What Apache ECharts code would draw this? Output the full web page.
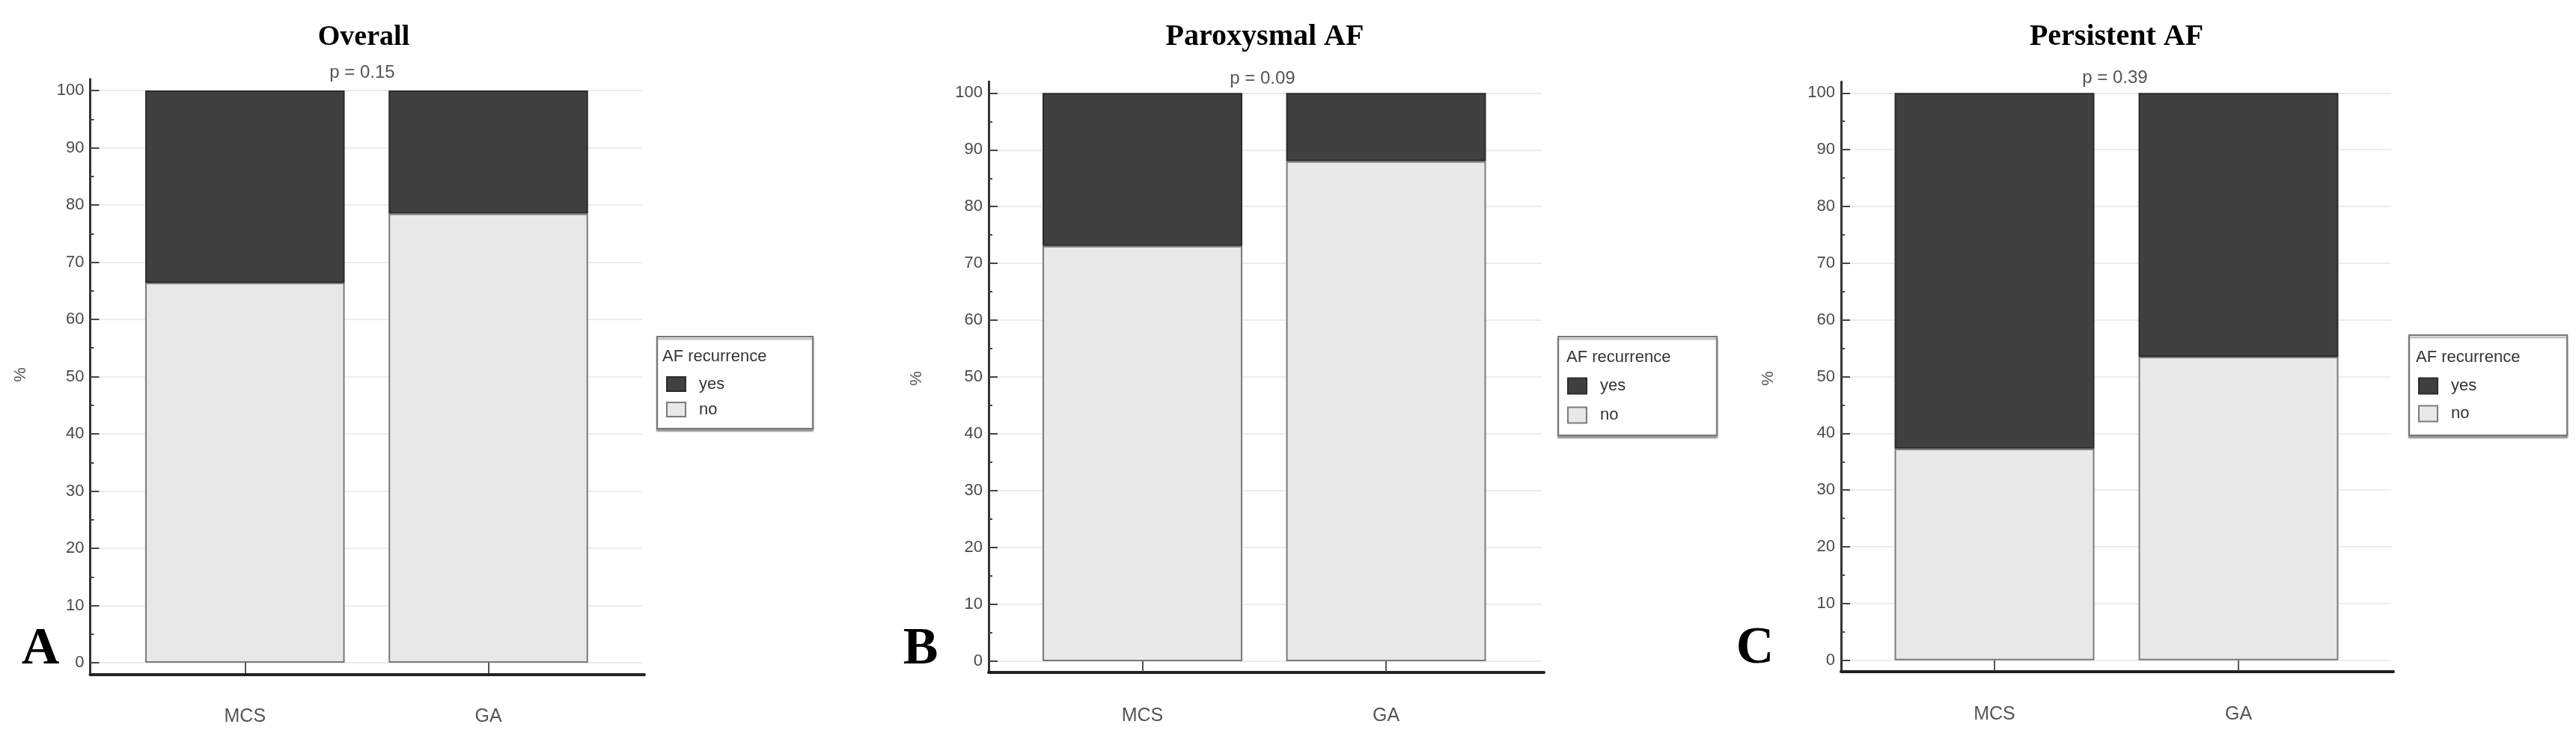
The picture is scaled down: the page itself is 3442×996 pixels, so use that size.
<!DOCTYPE html>
<html><head><meta charset="utf-8">
<script src="https://cdn.jsdelivr.net/npm/echarts@6/dist/echarts.min.js"></script>
<style>html,body{margin:0;padding:0;background:#fff}#c{width:3442px;height:996px}</style>
</head><body><div id="c"></div>
<script>
// ---------------- data ----------------
const categories = ['MCS', 'GA'];
const panelTitles = ['Overall', 'Paroxysmal AF', 'Persistent AF'];
const panelLetters = ['A', 'B', 'C'];
const pLabels = ['p = 0.15', 'p = 0.09', 'p = 0.39'];
const legendTitle = 'AF recurrence';
const legendItems = ['yes', 'no'];
const yAxisName = '%';
const overallNo = [66.4, 78.5];
const overallYes = [33.6, 21.5];
const paroxysmalNo = [73.1, 88.0];
const paroxysmalYes = [26.9, 12.0];
const persistentNo = [37.3, 53.5];
const persistentYes = [62.7, 46.5];
const yMin = 0, yMax = 100, yStep = 10;

const panelNo = [overallNo, paroxysmalNo, persistentNo];
const panelYes = [overallYes, paroxysmalYes, persistentYes];

// ---------------- layout ----------------
const SANS = '"Liberation Sans", Arial, sans-serif';
const SERIF = '"Liberation Serif", "Times New Roman", serif';
const L = [
  {axisX:120.5, gridEnd:858, c1:327.3, c2:652.5, barW:266.5, y0:886, y100:121, titleX:486, titleY:50.5, titleFs:38,
   pX:484, pY:97, letterX:54, letterY:868.5, pctX:27.5, pctY:501, catM:59.5,
   lg:{x:878, y:450, w:205, top:52.5, gap:12, bottom:14.5, ih:19, tx:885, ty:477}},
  {axisX:1321, gridEnd:2060, c1:1526.5, c2:1852, barW:267, y0:884, y100:124.3, titleX:1690, titleY:50, titleFs:40,
   pX:1687, pY:105, letterX:1230, letterY:869, pctX:1225, pctY:506, catM:60.5,
   lg:{x:2082, y:450, w:209, top:54.5, gap:16, bottom:15.5, ih:21, tx:2093, ty:478}},
  {axisX:2460, gridEnd:3195, c1:2665, c2:2991, barW:267, y0:882.7, y100:124.3, titleX:2828, titleY:50, titleFs:40,
   pX:2826, pY:104, letterX:2345, letterY:868, pctX:2363, pctY:506, catM:60,
   lg:{x:3219, y:448, w:208, top:56.5, gap:14, bottom:17.5, ih:21, tx:3228, ty:478}}
];

const grid = [], xAxis = [], yAxis = [], series = [], legend = [], graphic = [];

L.forEach((p, i) => {
  const ppu = (p.y0 - p.y100) / (yMax - yMin);
  const band = p.c2 - p.c1;
  const gF = i * 3, gP = i * 3 + 1, gB = i * 3 + 2;
  // frame grid: axis lines only (slightly extended range)
  grid.push({left: p.axisX, top: p.y0 - (yMax + 2) * ppu, width: p.gridEnd + 3 - p.axisX, height: (yMax - yMin + 4) * ppu});
  // plot grid: ticks, labels, gridlines
  grid.push({left: p.axisX, top: p.y100, width: p.gridEnd - p.axisX, height: p.y0 - p.y100});
  // bar grid
  grid.push({left: p.c1 - band / 2, top: p.y100, width: 2 * band, height: p.y0 - p.y100});

  xAxis.push({gridIndex: gF, type: 'value', min: 0, max: 1,
    axisLine: {show: true, onZero: false, lineStyle: {color: '#222', width: 4}},
    axisTick: {show: false}, axisLabel: {show: false}, splitLine: {show: false}});
  yAxis.push({gridIndex: gF, type: 'value', min: yMin - 2, max: yMax + 2,
    axisLine: {show: true, onZero: false, lineStyle: {color: '#333', width: 3}},
    axisTick: {show: false}, axisLabel: {show: false}, splitLine: {show: false}});

  xAxis.push({gridIndex: gP, type: 'value', show: false, min: 0, max: 1});
  yAxis.push({gridIndex: gP, type: 'value', min: yMin, max: yMax, interval: yStep,
    axisLine: {show: false, onZero: false},
    axisTick: {show: true, inside: true, length: 12, lineStyle: {color: '#444', width: 2}},
    minorTick: {show: true, splitNumber: 2, length: 5, lineStyle: {color: '#444', width: 2}},
    axisLabel: {show: true, margin: 8, fontFamily: SANS, fontSize: 22, color: '#4a4a4a'},
    splitLine: {show: true, lineStyle: {color: '#ececec', width: 2}}});

  xAxis.push({gridIndex: gB, type: 'category', data: categories,
    axisLine: {show: false, onZero: false},
    axisTick: {show: true, alignWithLabel: true, length: 14, lineStyle: {color: '#555', width: 2}},
    axisLabel: {margin: p.catM, fontFamily: SANS, fontSize: 25, color: '#555'}});
  yAxis.push({gridIndex: gB, type: 'value', min: yMin, max: yMax, show: false, splitLine: {show: false}});

  series.push({name: 'no', type: 'bar', xAxisIndex: gB, yAxisIndex: gB, stack: 's' + i, barWidth: p.barW,
    data: panelNo[i], itemStyle: {color: '#e8e8e8', borderColor: '#7a7a7a', borderWidth: 2},
    emphasis: {disabled: true}});
  series.push({name: 'yes', type: 'bar', xAxisIndex: gB, yAxisIndex: gB, stack: 's' + i, barWidth: p.barW,
    data: panelYes[i], itemStyle: {color: '#404040', borderColor: '#2b2b2b', borderWidth: 2},
    emphasis: {disabled: true}});

  const lg = p.lg;
  const textPad = 13, leftPad = 12, contentW = 75;
  const rightPad = lg.w - leftPad - contentW;
  legend.push({left: lg.x, top: lg.y, orient: 'vertical', data: legendItems, icon: 'rect',
    itemWidth: 25, itemHeight: lg.ih, itemGap: lg.gap,
    padding: [lg.top, rightPad, lg.bottom, leftPad],
    borderColor: '#777', borderWidth: 2, backgroundColor: '#fff',
    shadowColor: 'rgba(0,0,0,0.35)', shadowOffsetY: 3, shadowBlur: 2,
    selectedMode: false,
    textStyle: {fontFamily: SANS, fontSize: 22, color: '#333', padding: [0, 0, 0, textPad]}});

  graphic.push({type: 'text', x: p.titleX, y: p.titleY, z: 100, silent: true,
    style: {text: panelTitles[i], font: 'bold ' + p.titleFs + 'px ' + SERIF, fill: '#000', align: 'center', verticalAlign: 'middle'}});
  graphic.push({type: 'text', x: p.pX, y: p.pY, z: 100, silent: true,
    style: {text: pLabels[i], font: '24px ' + SANS, fill: '#555', align: 'center', verticalAlign: 'middle'}});
  graphic.push({type: 'text', x: p.letterX, y: p.letterY, z: 100, silent: true,
    style: {text: panelLetters[i], font: 'bold 70px ' + SERIF, fill: '#000', align: 'center', verticalAlign: 'middle'}});
  graphic.push({type: 'text', x: p.pctX, y: p.pctY, z: 100, silent: true, rotation: Math.PI / 2,
    style: {text: yAxisName, font: '22px ' + SANS, fill: '#555', align: 'center', verticalAlign: 'middle'}});
  graphic.push({type: 'text', x: lg.tx, y: lg.ty, z: 100, silent: true,
    style: {text: legendTitle, font: '22px ' + SANS, fill: '#333', align: 'left', verticalAlign: 'middle'}});
});

const chart = echarts.init(document.getElementById('c'), null, {renderer: 'canvas'});
chart.setOption({
  animation: false,
  backgroundColor: '#fff',
  grid, xAxis, yAxis, series, legend, graphic
});
</script>
</body></html>
